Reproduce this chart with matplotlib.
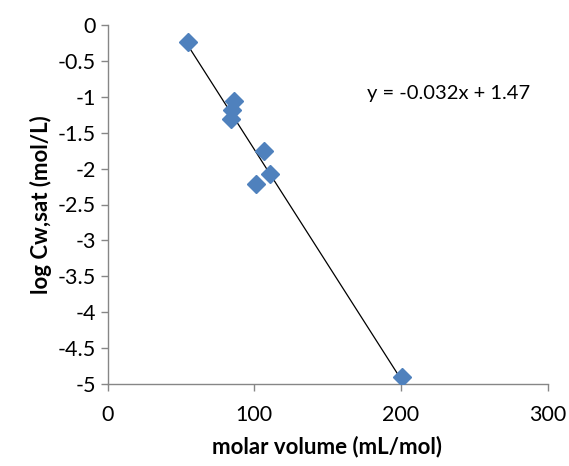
import numpy as np
import matplotlib
matplotlib.use("Agg")
import matplotlib.pyplot as plt

# data
molar_volume = [55, 86, 85, 84, 106.5, 111, 101, 200.5]
log_cw_sat = [-0.24, -1.06, -1.19, -1.31, -1.76, -2.08, -2.22, -4.90]
slope, intercept = -0.032, 1.47
x_ticks = [0, 100, 200, 300]
y_ticks = [0, -0.5, -1, -1.5, -2, -2.5, -3, -3.5, -4, -4.5, -5]

plt.rcParams['font.family'] = ['Lato', 'DejaVu Sans']

fig = plt.figure(figsize=(5.69, 4.66), dpi=100)
ax = fig.add_axes([107.5 / 569, 1 - 384 / 466, 440 / 569, 359 / 466])

# trendline over data range
xs = np.array([min(molar_volume), max(molar_volume)])
ax.plot(xs, slope * xs + intercept, color='black', lw=0.9, zorder=2)
ax.plot(molar_volume, log_cw_sat, linestyle='none', marker='D', ms=9,
        color='#4F81BD', mec='#4F81BD', zorder=3)

ax.set_xlim(0, 300)
ax.set_ylim(-5, 0)
ax.set_xticks(x_ticks)
ax.set_yticks(y_ticks)
ax.set_yticklabels([f"{v:g}" for v in y_ticks])

for s in ['top', 'right']:
    ax.spines[s].set_visible(False)
for s in ['left', 'bottom']:
    ax.spines[s].set_color('#868686')
    ax.spines[s].set_linewidth(1.0)
ax.tick_params(axis='both', colors='#868686', labelcolor='black', length=5,
               width=1.0, labelsize=15.5, direction='out')
ax.tick_params(axis='x', pad=10)

ax.set_xlabel('molar volume (mL/mol)', fontsize=16, fontweight='bold', labelpad=8)
ax.set_ylabel('log Cw,sat (mol/L)', fontsize=16, fontweight='bold', labelpad=4)

ax.text(0.59, 0.795, 'y = -0.032x + 1.47', transform=ax.transAxes, fontsize=14.5)

fig.savefig('out.png', dpi=100)
